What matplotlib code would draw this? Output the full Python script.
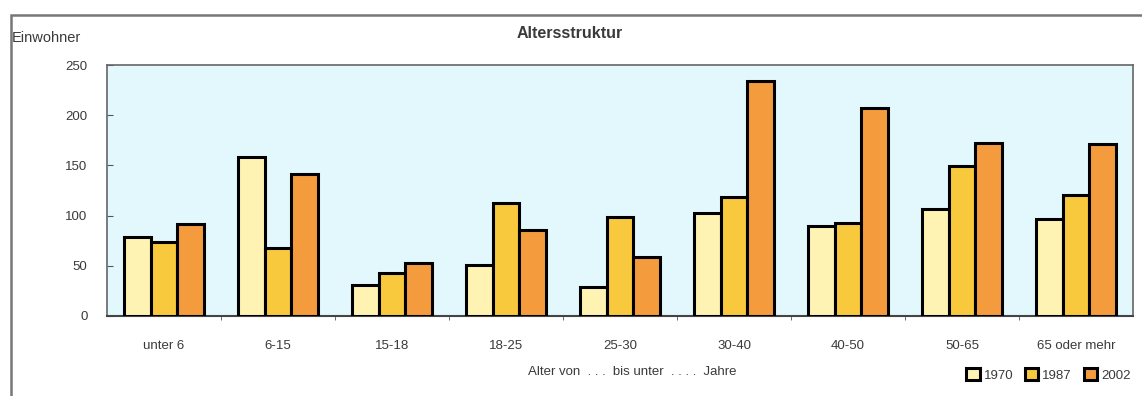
import numpy as np
import matplotlib
matplotlib.use("Agg")
import matplotlib.pyplot as plt
from matplotlib.patches import Rectangle

# Age groups and inhabitants per census year
categories = ["unter 6", "6-15", "15-18", "18-25", "25-30", "30-40", "40-50", "50-65", "65 oder mehr"]
years = ["1970", "1987", "2002"]
v1970 = [79, 158, 31, 51, 29, 103, 90, 107, 97]
v1987 = [74, 68, 43, 113, 99, 119, 93, 149, 121]
v2002 = [92, 141, 53, 86, 59, 234, 207, 172, 171]
colors = ["#FFF3B4", "#F8C93C", "#F49B3E"]

plt.rcParams["font.family"] = ["Liberation Sans", "DejaVu Sans"]
txt = "#3a3a3a"

fig = plt.figure(figsize=(11.42, 3.96), dpi=100)
ax = fig.add_axes([107 / 1142, 1 - 316 / 396, 1026 / 1142, 251 / 396])
ax.set_facecolor("#E2F8FD")

x = np.arange(len(categories))
w = 0.7 / 3
for i, (vals, yr) in enumerate(zip([v1970, v1987, v2002], years)):
    ax.bar(x + (i - 1) * w, vals, width=w, color=colors[i], edgecolor="black",
           linewidth=2.2, label=yr, zorder=3)

ax.set_xlim(-0.5, len(categories) - 0.5)
ax.set_ylim(0, 250)
ax.set_yticks(np.arange(0, 251, 50))
ax.tick_params(axis="y", direction="in", length=4, labelsize=9.5, colors="#555555",
               labelcolor=txt, pad=14)
ax.set_xticks(x)
ax.set_xticklabels(categories)
ax.set_xticks(np.arange(0.5, len(categories) - 1, 1), minor=True)
ax.tick_params(axis="x", which="major", length=0, labelsize=9.5, labelcolor=txt, pad=17)
ax.tick_params(axis="x", which="minor", direction="out", length=3, color="#555555")
for s in ax.spines.values():
    s.set_color("#666666")
    s.set_linewidth(1.2)
ax.spines["bottom"].set_color("#444444")
ax.spines["bottom"].set_linewidth(1.5)

fig.text(570 / 1142, 1 - 33 / 396, "Altersstruktur", ha="center", va="center",
         fontsize=11.5, fontweight="bold", color=txt)
fig.text(12 / 1142, 1 - 38 / 396, "Einwohner", ha="left", va="center", fontsize=10.5, color=txt)
fig.text(632 / 1142, 1 - 372 / 396, "Alter von  . . .  bis unter  . . . .  Jahre", ha="center",
         va="center", fontsize=9.5, color=txt)

leg = fig.legend(loc="center right", bbox_to_anchor=(1137 / 1142, 1 - 375 / 396), ncol=3,
                 frameon=False, fontsize=9.5, handlelength=1.0, handleheight=1.0,
                 handletextpad=0.3, columnspacing=0.9, borderpad=0)
for t in leg.get_texts():
    t.set_color(txt)

# outer frame of the chart
fig.patches.append(Rectangle((11 / 1142, -0.05), 1.2, 1 - 15 / 396 + 0.05,
                             transform=fig.transFigure, fill=False,
                             edgecolor="#777777", linewidth=1.8))

fig.savefig("out.png", dpi=100)
